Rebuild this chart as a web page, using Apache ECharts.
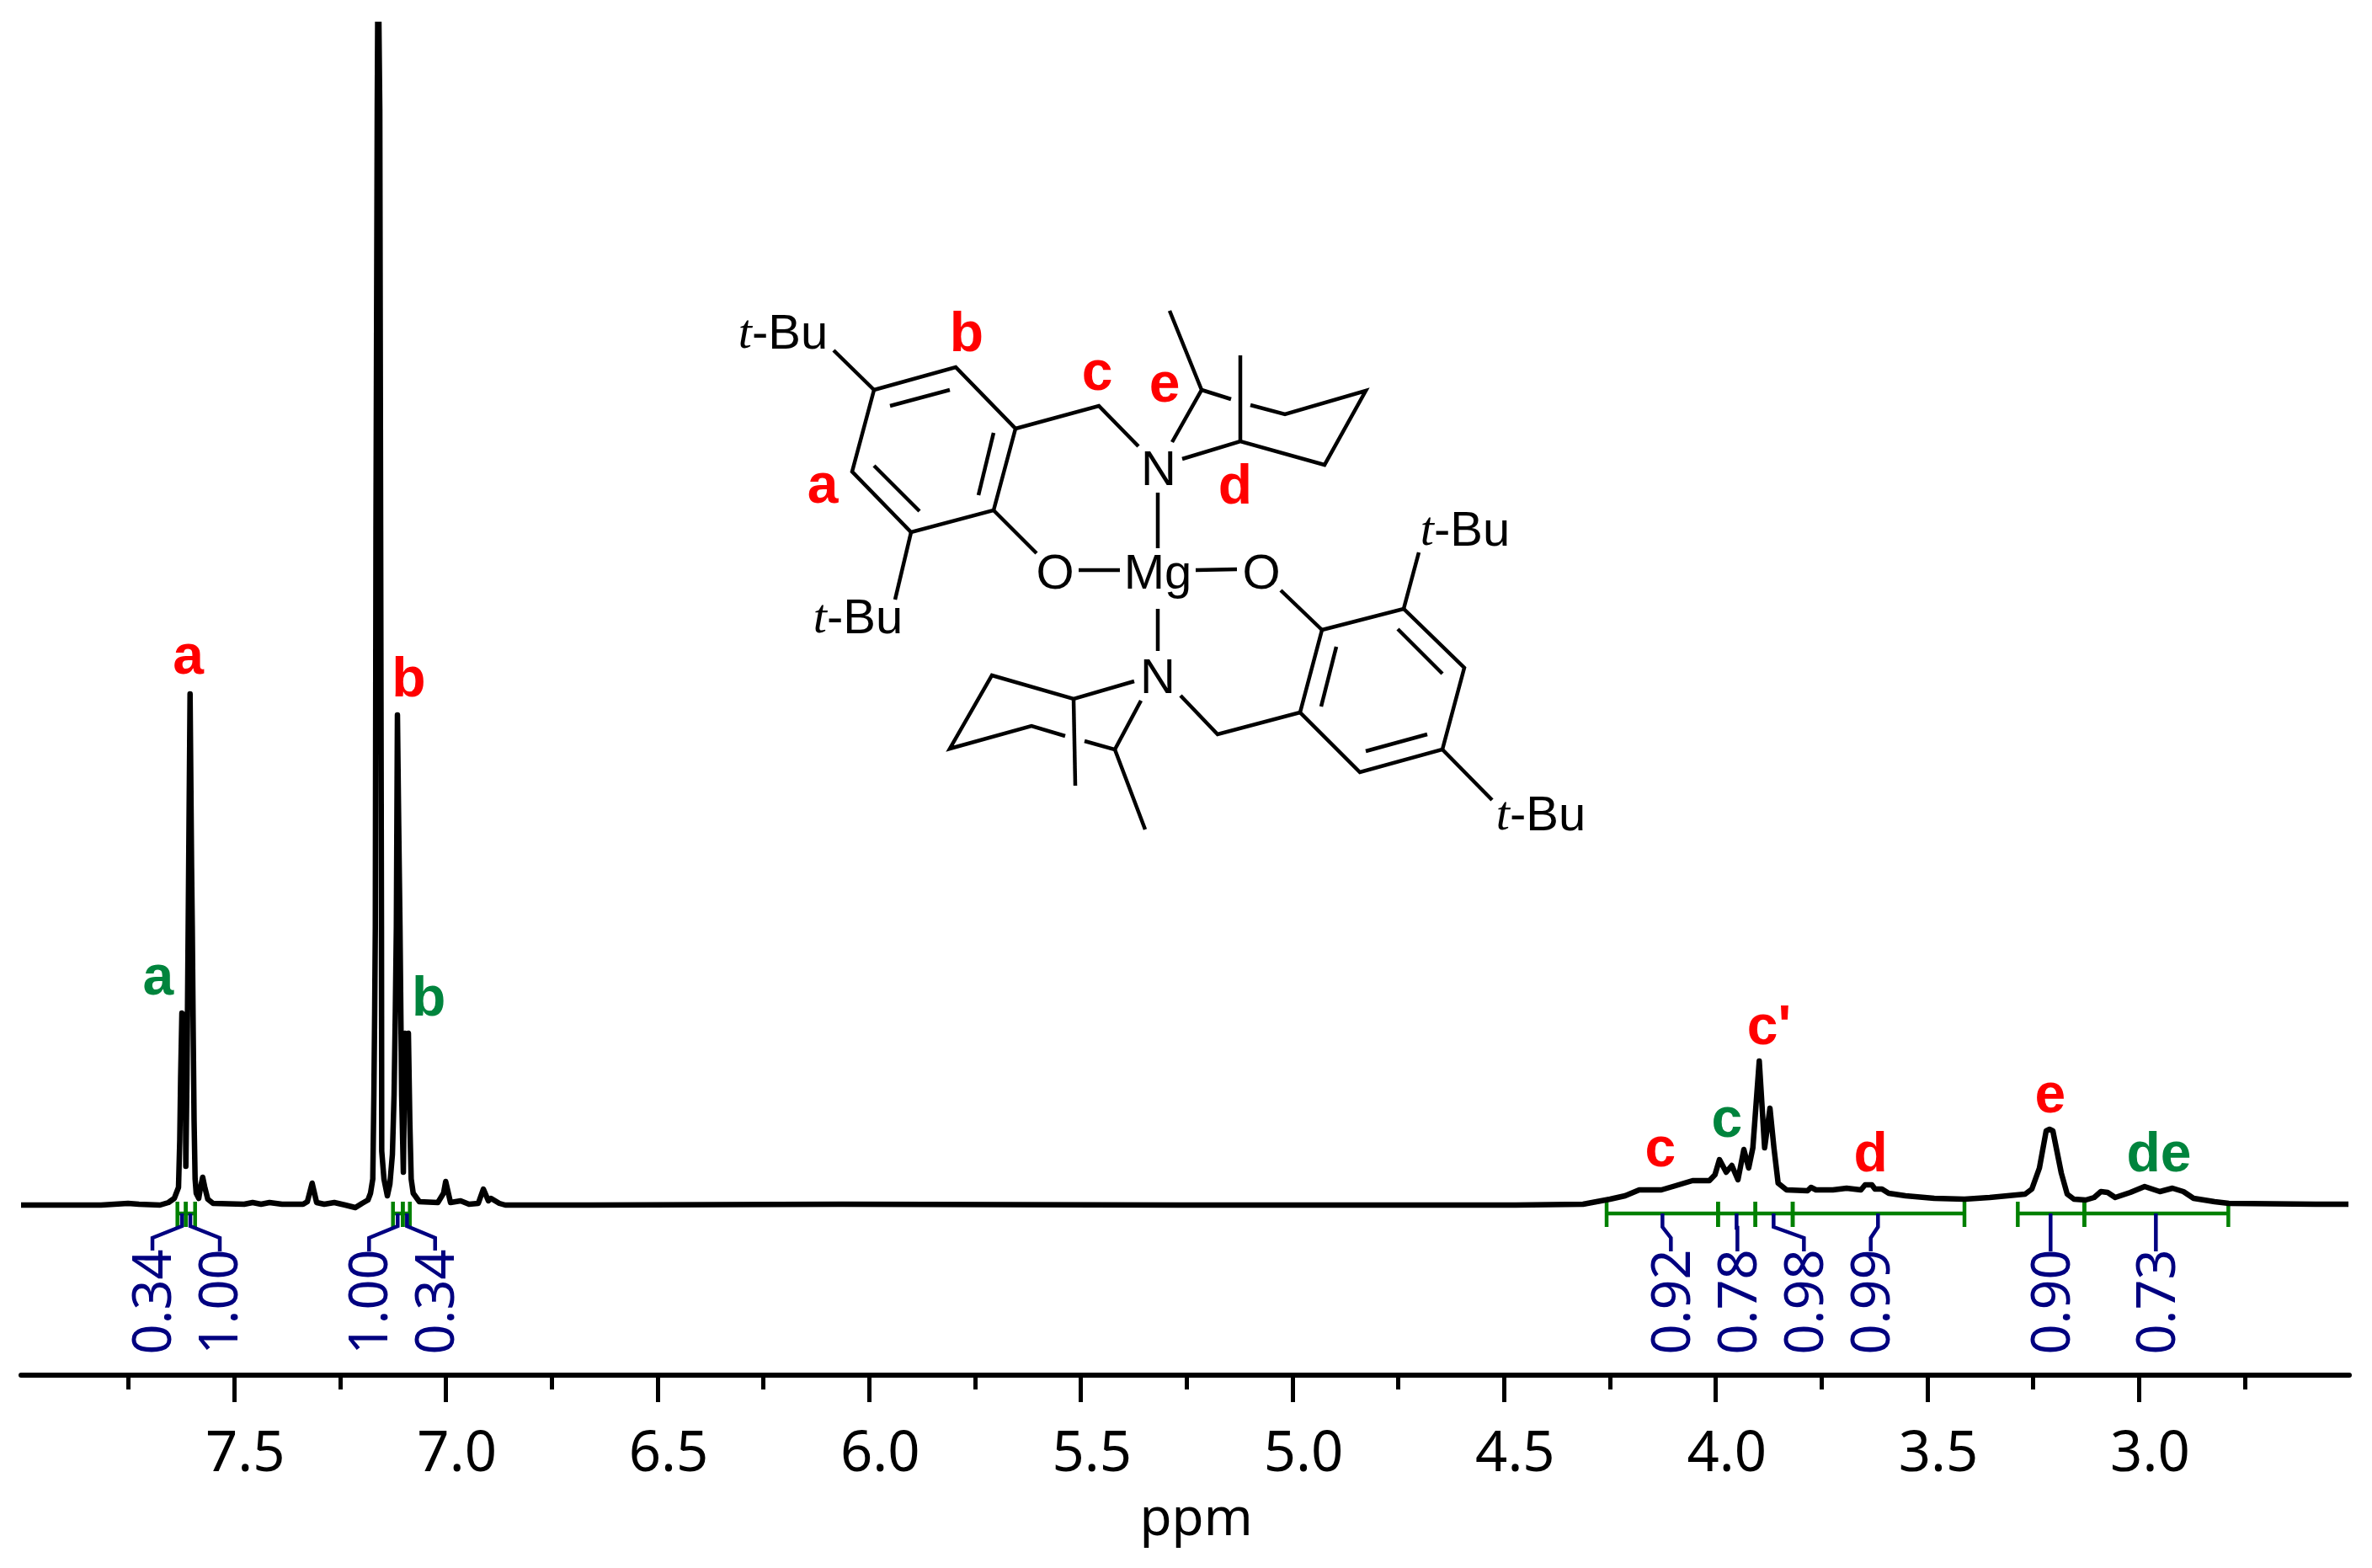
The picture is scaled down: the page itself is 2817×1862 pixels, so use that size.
<!DOCTYPE html>
<html>
<head>
<meta charset="utf-8">
<script src="https://cdn.jsdelivr.net/npm/echarts@6/dist/echarts.min.js"></script>
<style>html,body{margin:0;padding:0;background:#fff}#c{width:2817px;height:1862px}</style>
</head>
<body>
<div id="c"></div>
<script>
// spectrum: [ppm, intensity above baseline]
var spectrumLeft = [[8.0039,0],[7.8149,0],[7.7512,2],[7.7254,1],[7.6756,0],[7.6557,3],[7.6418,8],[7.6319,21],[7.6289,78],[7.6269,150],[7.6239,228],[7.6199,222],[7.6169,226],[7.6146,46],[7.6120,150],[7.6090,331],[7.6046,607],[7.6010,400],[7.5994,331],[7.5971,200],[7.5951,100],[7.5927,31],[7.5901,14],[7.5841,8],[7.5802,20],[7.5748,33],[7.5702,22],[7.5628,7],[7.5503,2],[7.4767,1],[7.4568,3],[7.4369,1],[7.4170,3],[7.3872,1],[7.3375,1],[7.3275,4],[7.3162,26],[7.3056,3],[7.2877,1],[7.2638,3],[7.2380,0],[7.2141,-3],[7.1982,2],[7.1843,6],[7.1783,14],[7.1729,31],[7.1703,131],[7.1684,231],[7.1669,331],[7.1654,800],[7.1624,1300],[7.1604,1500],[7.1564,1300],[7.1544,800],[7.1524,331],[7.1518,64],[7.1465,31],[7.1385,11],[7.1325,25],[7.1266,60],[7.1226,131],[7.1196,231],[7.1172,331],[7.1147,582],[7.1117,450],[7.1087,331],[7.1047,130],[7.1007,39],[7.0987,120],[7.0968,204],[7.0928,190],[7.0888,204],[7.0854,98],[7.0822,31],[7.0774,14],[7.0629,4],[7.0192,3],[7.0058,14],[7.0007,28],[6.9893,3],[6.9654,5],[6.9456,1],[6.9237,2],[6.9117,19],[6.8998,5],[6.8938,8],[6.8739,2],[6.8600,0]];
var spectrumMiddle = [[6.6611,0],[6.0643,1],[5.2686,0],[4.4729,0],[4.3137,1]];
var spectrumRight = [[4.2500,7],[4.2143,11],[4.1810,18],[4.1287,18],[4.0949,23],[4.0551,29],[4.0153,29],[4.0020,36],[3.9914,54],[3.9755,39],[3.9622,47],[3.9477,30],[3.9338,66],[3.9224,44],[3.9125,68],[3.8974,171],[3.8847,68],[3.8721,115],[3.8627,68],[3.8528,26],[3.8329,18],[3.7832,17],[3.7752,21],[3.7633,18],[3.7235,18],[3.6910,20],[3.6572,18],[3.6473,24],[3.6314,24],[3.6240,19],[3.6075,19],[3.5916,14],[3.5518,11],[3.4840,8],[3.4126,7],[3.3529,9],[3.2693,13],[3.2534,19],[3.2355,44],[3.2196,88],[3.2116,90],[3.2037,88],[3.1838,38],[3.1699,13],[3.1540,7],[3.1261,6],[3.1062,9],[3.0903,16],[3.0744,15],[3.0565,9],[3.0207,15],[2.9869,22],[2.9510,16],[2.9212,20],[2.8953,16],[2.8714,8],[2.8217,4],[2.7879,2],[2.5829,1],[2.5054,1]];

var majorTicks = [7.5,7.0,6.5,6.0,5.5,5.0,4.5,4.0,3.5,3.0];
var minorTicks = [7.75,7.25,6.75,6.25,5.75,5.25,4.75,4.25,3.75,3.25,2.75];

var integralRanges = [[7.6345,7.6146],[7.6146,7.5927],[7.1252,7.1021],[7.1021,7.0854],[4.2580,3.9948],[3.9948,3.9065],[3.9065,3.8184],[3.8184,3.4126],[3.2866,3.1294],[3.1294,2.7892]];
var integralLeaders = [
 [[7.6239,-10],[7.6239,-25],[7.6935,-39],[7.6935,-54]],
 [[7.6040,-10],[7.6040,-25],[7.5344,-39],[7.5344,-55]],
 [[7.1141,-10],[7.1141,-25],[7.1817,-39],[7.1817,-55]],
 [[7.0922,-10],[7.0922,-25],[7.0257,-39],[7.0257,-54]],
 [[4.1261,-10],[4.1261,-26],[4.1062,-39],[4.1062,-55]],
 [[3.9510,-10],[3.9510,-27],[3.9490,-27],[3.9490,-55]],
 [[3.8635,-10],[3.8635,-26],[3.7919,-39],[3.7919,-55]],
 [[3.6169,-10],[3.6169,-26],[3.6340,-39],[3.6340,-55]],
 [[3.2091,-10],[3.2091,-55]],
 [[2.9604,-10],[2.9604,-55]]
];
var integralLabels = [[7.6855,"0.34"],[7.5274,"1.00"],[7.1743,"1.00"],[7.0171,"0.34"],[4.0976,"0.92"],[3.9405,"0.78"],[3.7826,"0.98"],[3.6254,"0.99"],[3.1987,"0.90"],[2.9518,"0.73"]];

var redPeakLabels = [[7.609,649,"a"],[7.088,622,"b"],[4.131,64,"c"],[3.874,209,"c'"],[3.634,58,"d"],[3.210,128,"e"]];
var greenPeakLabels = [[7.680,268,"a"],[7.041,243,"b"],[3.974,99,"c"],[2.953,58,"de"]];

// molecule inset, in its own drawing units
var moleculeBonds = [
 [[140,86],[188,133]],
 [[188,133],[285,106],[356,179],[330,276],[232,302],[162,230],[188,133]],
 [[207,152],[278,133]],[[330,184],[312,258]],[[242,277],[188,223]],
 [[232,302],[213,382]],
 [[356,179],[455,152],[502,200]],
 [[330,276],[381,327]],
 [[431,347],[480,347]],[[570,347],[619,346]],
 [[525,255],[525,321]],[[525,393],[525,443]],
 [[542,195],[577,133],[539,39]],
 [[577,133],[612,144]],
 [[635,151],[676,162],[772,134],[723,222],[623,194],[554,215]],
 [[623,194],[623,92]],
 [[671,371],[720,418]],
 [[720,418],[817,393],[889,463],[863,560],[765,587],[694,516],[720,418]],
 [[810,417],[863,470]],[[845,542],[772,562]],[[737,438],[719,509]],
 [[817,393],[835,326]],[[863,560],[922,620]],
 [[694,516],[596,542],[552,496]],
 [[497,479],[425,500],[328,472],[278,559],[375,532],[415,544]],
 [[438,550],[474,560],[510,655]],
 [[474,560],[505,502]],
 [[425,500],[427,603]]
];
var moleculeAtoms = [[80,68,"t-Bu"],[169,406,"t-Bu"],[890,302,"t-Bu"],[980,640,"t-Bu"],[403,353,"O"],[648,353,"O"],[525,353,"Mg"],[526,230,"N"],[525,477,"N"]];
var moleculeTags = [[298,69,"b"],[453,115,"c"],[533,129,"e"],[127,249,"a"],[617,250,"d"]];

var spectrum = spectrumLeft.concat(spectrumMiddle, spectrumRight);
var greenSegs = [];
integralRanges.forEach(function(r){
  greenSegs.push({coords:[[r[0],-10],[r[1],-10]]});
  greenSegs.push({coords:[[r[0],4],[r[0],-26]]});
  greenSegs.push({coords:[[r[1],4],[r[1],-26]]});
});
function toLines(a){return a.map(function(c){return {coords:c};});}
function textScatter(name,data,x,y,label){
  return {type:'scatter',name:name,xAxisIndex:x,yAxisIndex:y,symbolSize:1,silent:true,animation:false,clip:false,
    data:data,itemStyle:{color:'transparent',opacity:1},labelLayout:{hideOverlap:false},
    label:Object.assign({show:true,opacity:1,position:'inside',align:'center',verticalAlign:'middle',
      formatter:function(p){return p.value[2];}},label),z:5};
}
var bold = {fontFamily:'Liberation Sans',fontWeight:'bold',fontSize:66};
var chart = echarts.init(document.getElementById('c'),null,{renderer:'canvas'});
var XMIN=2.5035,XMAX=8.0039;
chart.setOption({
  backgroundColor:'#fff',animation:false,
  grid:[{left:25,top:29,width:2765,height:1604},{left:850,top:330,width:1100,height:700}],
  xAxis:[
   {type:'value',gridIndex:0,min:XMIN,max:XMAX,inverse:true,position:'bottom',
    name:'ppm',nameLocation:'middle',nameGap:141,
    nameTextStyle:{fontFamily:'Noto Sans',fontSize:62,color:'#000',padding:[0,0,0,26]},
    axisLine:{show:true,onZero:false,lineStyle:{color:'#000',width:6}},
    axisTick:{show:true,inside:false,length:32,customValues:majorTicks,lineStyle:{color:'#000',width:5}},
    axisLabel:{show:true,customValues:majorTicks,margin:61,fontFamily:'Noto Sans',fontSize:67,color:'#000',padding:[0,0,0,26],
      formatter:function(v){return v.toFixed(1);},showMinLabel:true,showMaxLabel:true},
    splitLine:{show:false}},
   {type:'value',gridIndex:0,min:XMIN,max:XMAX,inverse:true,position:'bottom',
    axisLine:{show:false,onZero:false},
    axisTick:{show:true,length:17,customValues:minorTicks,lineStyle:{color:'#000',width:5}},
    axisLabel:{show:false},splitLine:{show:false}},
   {type:'value',gridIndex:1,min:0,max:1100,show:false}
  ],
  yAxis:[
   {type:'value',gridIndex:0,min:-202,max:1402,show:false},
   {type:'value',gridIndex:1,min:0,max:700,inverse:true,show:false}
  ],
  series:[
   {type:'line',name:'spectrum',xAxisIndex:0,yAxisIndex:0,data:spectrum,showSymbol:false,symbol:'none',smooth:false,clip:true,silent:true,
    lineStyle:{color:'#000',width:6.5,join:'round'},z:3},
   {type:'lines',name:'integrals',coordinateSystem:'cartesian2d',xAxisIndex:0,yAxisIndex:0,polyline:true,silent:true,data:greenSegs,
    lineStyle:{color:'#008000',width:4.5,opacity:1},z:2},
   {type:'lines',name:'leaders',coordinateSystem:'cartesian2d',xAxisIndex:0,yAxisIndex:0,polyline:true,silent:true,data:toLines(integralLeaders),
    lineStyle:{color:'#000080',width:4.5,opacity:1},z:3},
   {type:'lines',name:'molecule',coordinateSystem:'cartesian2d',xAxisIndex:2,yAxisIndex:1,polyline:true,silent:true,data:toLines(moleculeBonds),
    lineStyle:{color:'#000',width:4.5,opacity:1},z:3},
   textScatter('integralValues',integralLabels.map(function(l){return [l[0],-115,l[1]];}),0,0,
     {fontFamily:'Noto Sans',fontSize:63,color:'#000080',rotate:90}),
   textScatter('redPeaks',redPeakLabels,0,0,Object.assign({color:'#ff0000'},bold)),
   textScatter('greenPeaks',greenPeakLabels,0,0,Object.assign({color:'#00843d'},bold)),
   textScatter('atoms',moleculeAtoms,2,1,{fontFamily:'Liberation Sans',fontSize:58,color:'#000',
     formatter:function(p){var t=p.value[2];return t==='t-Bu'?'{i|t}-Bu':t;},
     rich:{i:{fontStyle:'italic',fontFamily:'Liberation Serif',fontSize:58,color:'#000'}}}),
   textScatter('tags',moleculeTags,2,1,Object.assign({color:'#ff0000'},bold))
  ]
});
</script>
</body>
</html>
